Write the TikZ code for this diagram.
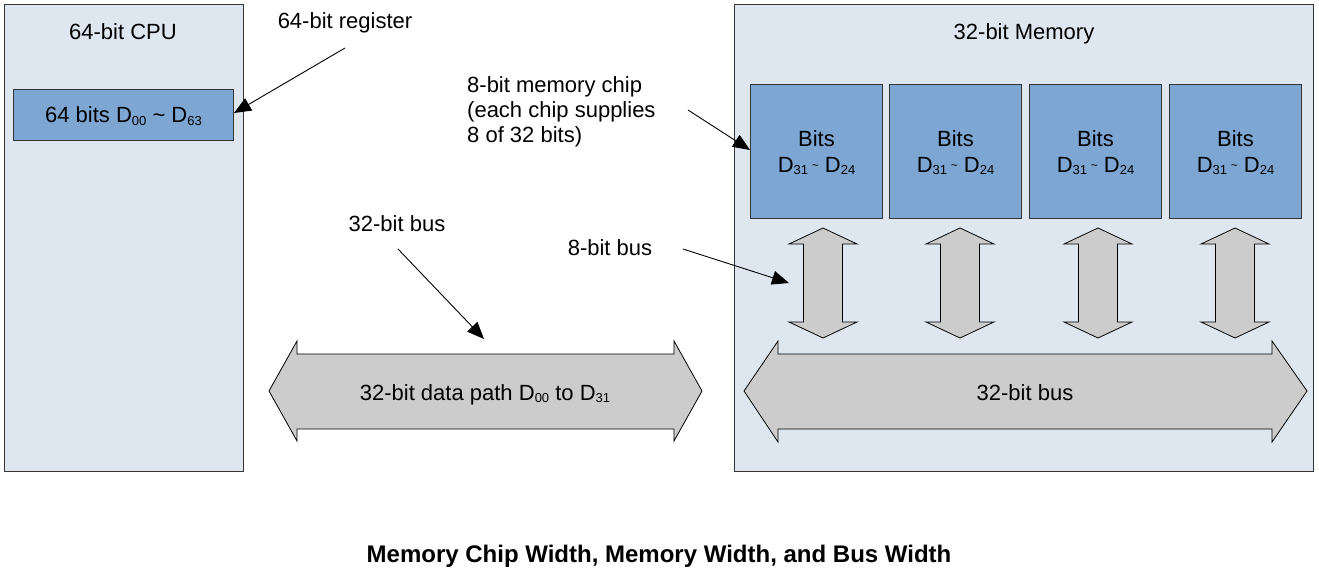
\documentclass[tikz,border=0pt]{standalone}
\usepackage{fontspec}
\setmainfont{Liberation Sans}
\usetikzlibrary{arrows.meta}
\definecolor{boxbg}{RGB}{222,230,239}
\definecolor{chipblue}{RGB}{125,166,211}
\definecolor{busgray}{RGB}{204,204,204}
\definecolor{edgegray}{RGB}{52,52,52}
\newcommand{\sbs}[1]{\smash{\raisebox{-2.5pt}{\fontsize{13}{13}\selectfont #1}}}
\newcommand{\smtilde}{\raisebox{3pt}{\fontsize{12}{12}\selectfont\textasciitilde}}
\begin{document}
\begin{tikzpicture}[x=1pt,y=-1pt, font=\fontsize{22}{25}\selectfont,
  panel/.style={draw=edgegray, fill=boxbg, line width=1pt, inner sep=0pt},
  chipbox/.style={draw=edgegray, fill=chipblue, line width=1pt, inner sep=0pt, align=center,
    font=\fontsize{22}{26}\selectfont, minimum width=132pt, minimum height=134pt, anchor=north west},
  busshape/.style={draw=black, fill=busgray, line width=0.8pt, line join=miter},
  ptr/.style={draw=black, line width=0.9pt, -{Triangle[length=17pt,width=14pt]}},
  lbl/.style={inner sep=0pt, anchor=base}]
\useasboundingbox (0,0) rectangle (1319,572);
\fill[white] (0,0) rectangle (1319,572);

% panels
\node[panel, minimum width=239pt, minimum height=467pt, anchor=north west] (cpu) at (4,4) {};
\node[panel, minimum width=579pt, minimum height=467pt, anchor=north west] (mem) at (734,4) {};
\node[lbl] (cputitle) at (123,40) {64-bit CPU};
\node[lbl] (memtitle) at (1024,40) {32-bit Memory};

% register
\node[chipbox, minimum width=220pt, minimum height=51pt, font=\fontsize{22}{25}\selectfont] (reg) at (13,89)
  {64 bits D\sbs{00} \textasciitilde{} D\sbs{63}};

% chips
\node[chipbox] (chip1) at (750,84) {Bits\\D\sbs{31}\,\smtilde\ D\sbs{24}};
\node[chipbox] (chip2) at (889,84) {Bits\\D\sbs{31}\,\smtilde\ D\sbs{24}};
\node[chipbox] (chip3) at (1029,84) {Bits\\D\sbs{31}\,\smtilde\ D\sbs{24}};
\node[chipbox] (chip4) at (1169,84) {Bits\\D\sbs{31}\,\smtilde\ D\sbs{24}};

% vertical 8-bit buses
\foreach \cx in {823,960,1098,1235}
  \draw[busshape] (\cx,228) -- (\cx+34,244) -- (\cx+19.5,244) -- (\cx+19.5,322) -- (\cx+34,322)
    -- (\cx,338) -- (\cx-34,322) -- (\cx-19.5,322) -- (\cx-19.5,244) -- (\cx-34,244) -- cycle;

% big horizontal buses
\draw[busshape] (269,391) -- (297,341) -- (297,354) -- (674,354) -- (674,341) -- (702,391)
  -- (674,441) -- (674,429) -- (297,429) -- (297,441) -- cycle;
\draw[busshape] (744,391) -- (778,341) -- (778,354) -- (1272,354) -- (1272,341) -- (1307,391)
  -- (1272,442) -- (1272,429) -- (778,429) -- (778,442) -- cycle;
\node[lbl] (datapath) at (485,400) {32-bit data path D\sbs{00} to D\sbs{31}};
\node[lbl] (membus) at (1025,400) {32-bit bus};

% labels
\node[lbl] (lreg) at (345,29) {64-bit register};
\node[lbl, anchor=north west, align=left] (lchip) at (467,76) {8-bit memory chip\\(each chip supplies\\8 of 32 bits)};
\node[lbl] (l8bus) at (610,255) {8-bit bus};
\node[lbl] (l32bus) at (397,231) {32-bit bus};

% pointer coordinates
\coordinate (sreg) at (345,48);
\coordinate (treg) at (234,113);
\coordinate (schip) at (688,110);
\coordinate (tchip) at (750,150);
\coordinate (s8) at (683,249);
\coordinate (t8) at (789,283);
\coordinate (s32) at (398,249);
\coordinate (t32) at (484,339);
\draw[ptr] (sreg) -- (treg);
\draw[ptr] (schip) -- (tchip);
\draw[ptr] (s8) -- (t8);
\draw[ptr] (s32) -- (t32);

% title
\node[lbl, font=\fontsize{24}{28}\selectfont\bfseries] (title) at (659,562)
  {Memory Chip Width, Memory Width, and Bus Width};
\end{tikzpicture}
\end{document}
